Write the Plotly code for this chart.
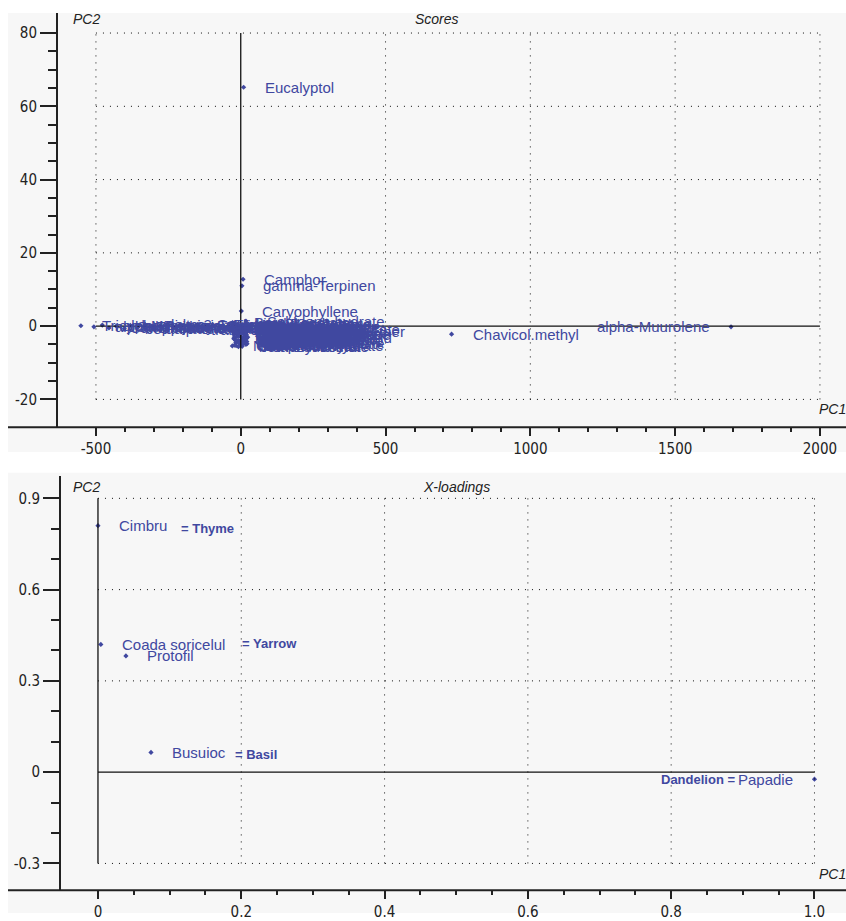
import plotly.graph_objects as go

W, H = 846, 921

# ---------------- data: scores (PC1, PC2) ----------------
named_labels = ["Eucalyptol", "Camphor", "gamma-Terpinen", "Caryophyllene", "Chavicol.methyl", "alpha-Muurolene"]
named_pc1 = [10, 8, 4, 2, 728, 1693]
named_pc2 = [65.2, 12.8, 11.0, 4.1, -2.2, -0.2]
named_side = ["right", "right", "right", "right", "right", "left"]

left_labels = ["Tricyclene", "alpha-Thujene", "alpha-Pinene", "Camphene", "Sabinene", "beta-Pinene",
               "Myrcene", "alpha-Phellandrene", "delta-3-Carene", "alpha-Terpinene", "p-Cymene",
               "Limonene", "beta-Phellandrene", "cis-Ocimene", "trans-Ocimene", "Terpinolene",
               "Linalool", "Thymol", "Carvacrol", "Nonanal"]
left_pc1 = [-552, -507, -478, -455, -430, -402, -381, -355, -330, -302, -276, -251, -228, -203,
            -176, -150, -122, -97, -71, -43]
left_pc2 = [0.1, -0.2, 0.3, -0.5, 0.0, -0.7, 0.2, -0.3, 0.4, -0.6, -0.1, 0.3, -0.4, 0.1, -0.8,
            0.2, -0.2, 0.4, -0.5, 0.0]

blob_labels = ["Bornyl acetate", "Linalyl acetate", "Terpinen-4-ol", "Germacrene D",
               "alpha-Terpineol", "Sabinene hydrate", "cis-Sabinene hydrate", "Spathulenol",
               "beta-Bisabolene", "Myrtenyl acetate", "Caryophyllene oxide", "Terpinyl acetate",
               "Geranyl acetate", "Neryl acetate", "alpha-Humulene", "delta-Cadinene",
               "gamma-Cadinene", "beta-Elemene", "alpha-Copaene", "beta-Bourbonene",
               "Thymyl acetate", "Methyl eugenol", "Linalool oxide", "trans-Anethole",
               "Carvacrol methyl ether", "Borneol", "Isoborneol acetate", "Citronellol",
               "3-Octanone", "Myrtenal", "Pinocarvone", "trans-Pinocarveol", "Verbenone",
               "Carvone", "Piperitone oxide", "Chamazulene", "Artemisia ketone", "alpha-Thujone",
               "Lavandulyl acetate", "Sabinyl acetate", "beta-Thujone", "Nerolidol",
               "beta-Farnesene", "Bicyclogermacrene", "Aromadendrene", "Ledol", "Viridiflorol",
               "Hexadecanoic acid", "tau-Muurolol", "alpha-Cadinol", "Phytol", "Tricosane",
               "Pentacosane", "Ethyl palmitate", "Undecanal",
               "Camphene hydrate", "Fenchyl acetate", "Citronellal", "Geraniol", "Nerol",
               "Neral", "Geranial", "Carvacryl acetate", "Cuminaldehyde", "Eugenol",
               "Isoeugenol", "Caryophyllenol", "Humulene epoxide", "Cubenol", "Globulol",
               "Elemol", "beta-Eudesmol", "alpha-Bisabolol", "Germacrene B", "Valencene"]
blob_pc1 = [-28, -22, 12, 5, -15, 18, -8, 22, -3, 9, -25, 14, -12, 3, 20, -18, 7, -5, 16, -20,
            1, 11, -10, 24, -27, 6, -14, 19, -2, 13, -24, 8, -7, 21, -17, 4, -11, 15, -26, 10,
            -4, 23, -19, 2, 17, -9, -21, 12, -23, 6, -13, 20, -1, 14, 9,
            -21, 5, -6, 18, -29, 11, 0, 22, -16, 7, -3, 15, -25, 9, -12, 24, -8, 3, 19, -18]
blob_pc2 = [1.0, 0.6, 0.2, -0.2, -0.6, 1.4, -1.0, -1.3, -1.6, -1.9, -2.2, -2.5, -2.8, -3.1,
            -3.4, -3.7, -4.0, -4.3, -4.7, 0.8, 0.0, -0.5, -0.8, -1.1, -1.5, -1.8, -2.1, -2.4,
            -2.7, -3.0, -3.3, -3.6, -3.9, -4.2, -4.5, -4.9, 0.4, -0.1, -0.4, -0.7, -1.2, -1.4,
            -1.7, -2.0, -2.3, -2.6, -2.9, -3.2, -3.5, -3.8, -4.1, -0.3, -1.5, -2.7, -3.9,
            -5.2, -5.5, -4.6, -5.0, -5.4, -4.4, -5.1, -4.8, -5.3, -1.1, -2.6, -3.5, -0.2, -4.7,
            -1.9, -3.0, -5.6, -0.9, -2.2, -3.9]

# ---------------- data: X-loadings ----------------
load_labels = ["Cimbru", "Coada soricelul", "Protofil", "Busuioc", "Papadie"]
load_pc1 = [0.0, 0.004, 0.039, 0.074, 1.0]
load_pc2 = [0.81, 0.42, 0.382, 0.065, -0.023]
load_side = ["right", "right", "right", "right", "left"]

# English names written next to the Romanian ones
trans_text = ["= Thyme", "= Yarrow", "= Basil", "Dandelion ="]
trans_x = [0.113, 0.198, 0.188, 0.892]
trans_y = [0.80, 0.423, 0.059, -0.025]
trans_anchor = ["left", "left", "left", "right"]

# axis ticks
s_xticks = [-500, 0, 500, 1000, 1500, 2000]
s_xminor = [-400, -300, -200, -100, 100, 200, 300, 400, 600, 700, 800, 900, 1100, 1200, 1300,
            1400, 1600, 1700, 1800, 1900]
s_yticks = [-20, 0, 20, 40, 60, 80]
s_yminor = [-15, -10, -5, 5, 10, 15, 25, 30, 35, 45, 50, 55, 65, 70, 75]
l_xticks = [0, 0.2, 0.4, 0.6, 0.8, 1.0]
l_xticktext = ["0", "0.2", "0.4", "0.6", "0.8", "1.0"]
l_xminor = [0.05, 0.1, 0.15, 0.25, 0.3, 0.35, 0.45, 0.5, 0.55, 0.65, 0.7, 0.75, 0.85, 0.9, 0.95]
l_yticks = [-0.3, 0, 0.3, 0.6, 0.9]
l_yticktext = ["-0.3", "0", "0.3", "0.6", "0.9"]
l_yminor = [-0.2, -0.1, 0.1, 0.2, 0.4, 0.5, 0.7, 0.8]

# ---------------- styling ----------------
BLUE = "#4048a0"
INK = "#222222"
PANEL = "#f7f7f7"
LABEL_FONT = "Liberation Sans, Arial, sans-serif"
TICK_FONT = "DejaVu Sans Condensed, Liberation Sans Narrow, Arial Narrow, Liberation Sans, sans-serif"


def px_x(p):
    return p / W


def px_y(p):
    return 1 - p / H


fig = go.Figure()

# score points
all_pc1 = named_pc1 + left_pc1 + blob_pc1
all_pc2 = named_pc2 + left_pc2 + blob_pc2
fig.add_trace(go.Scatter(x=all_pc1, y=all_pc2, mode="markers", xaxis="x", yaxis="y",
                         marker=dict(symbol="diamond", size=4, color=BLUE),
                         showlegend=False, hoverinfo="skip"))
# loading points
fig.add_trace(go.Scatter(x=load_pc1, y=load_pc2, mode="markers", xaxis="x2", yaxis="y2",
                         marker=dict(symbol="diamond", size=4, color=BLUE),
                         showlegend=False, hoverinfo="skip"))

annotations = []


def point_label(text, x, y, side, xref, yref, size=15):
    annotations.append(dict(
        x=x, y=y, xref=xref, yref=yref, text=text,
        showarrow=False, xanchor="left" if side == "right" else "right",
        xshift=19 if side == "right" else -19, yanchor="middle",
        font=dict(family=LABEL_FONT, size=size, color=BLUE)))


for t, x, y in zip(left_labels, left_pc1, left_pc2):
    point_label(t, x, y, "right", "x", "y")
for t, x, y in zip(blob_labels, blob_pc1, blob_pc2):
    point_label(t, x, y, "right", "x", "y")
for t, x, y, s in zip(named_labels, named_pc1, named_pc2, named_side):
    point_label(t, x, y, s, "x", "y")
for t, x, y, s in zip(load_labels, load_pc1, load_pc2, load_side):
    point_label(t, x, y, s, "x2", "y2")
for t, x, y, a in zip(trans_text, trans_x, trans_y, trans_anchor):
    annotations.append(dict(x=x, y=y, xref="x2", yref="y2", text=f"<b>{t}</b>", showarrow=False,
                            xanchor=a, yanchor="middle",
                            font=dict(family=LABEL_FONT, size=13, color=BLUE)))

# panel titles and axis names
for text, x, y, anchor in [("Scores", 437, 19, "center"), ("X-loadings", 456, 491, "center"),
                           ("PC2", 71, 19, "left"), ("PC2", 71, 491, "left"),
                           ("PC1", 848, 413, "right"), ("PC1", 848, 882, "right")]:
    annotations.append(dict(x=px_x(x), y=px_y(y), xref="paper", yref="paper", text=f"<i>{text}</i>",
                            showarrow=False, xanchor=anchor, yanchor="middle",
                            font=dict(family=LABEL_FONT, size=14, color=INK)))

shapes = []
# grey panels
shapes.append(dict(type="rect", xref="paper", yref="paper", x0=px_x(8), x1=1, y0=px_y(456), y1=px_y(13),
                   fillcolor=PANEL, line=dict(width=0), layer="below"))
shapes.append(dict(type="rect", xref="paper", yref="paper", x0=px_x(8), x1=1, y0=0, y1=px_y(477),
                   fillcolor=PANEL, line=dict(width=0), layer="below"))
# x axis lines running out to the panel edge
shapes.append(dict(type="line", xref="paper", yref="paper", x0=px_x(8), x1=1, y0=px_y(431), y1=px_y(431),
                   line=dict(color=INK, width=2)))
shapes.append(dict(type="line", xref="paper", yref="paper", x0=px_x(8), x1=1, y0=px_y(898), y1=px_y(898),
                   line=dict(color=INK, width=2)))

DOT = "1px,6px"


def grid(xref, yref, xt, yt, xlo, xhi, ylo, yhi):
    for v in xt:
        solid = v == 0
        shapes.append(dict(type="line", xref=xref, yref=yref, x0=v, x1=v, y0=ylo, y1=yhi,
                           line=dict(color="#111111", width=1.3 if solid else 1,
                                     dash="solid" if solid else DOT)))
    for v in yt:
        solid = v == 0
        shapes.append(dict(type="line", xref=xref, yref=yref, x0=xlo, x1=xhi, y0=v, y1=v,
                           line=dict(color="#111111", width=1.3 if solid else 1,
                                     dash="solid" if solid else DOT)))


grid("x", "y", s_xticks, s_yticks, min(s_xticks), max(s_xticks), min(s_yticks), max(s_yticks))
grid("x2", "y2", l_xticks, l_yticks, 0, max(l_xticks), min(l_yticks), max(l_yticks))

tickfont = dict(family=TICK_FONT, size=15, color=INK)


def xaxis_cfg(domain, rng, ticks, texts, minor, anchor):
    return dict(domain=domain, range=rng, anchor=anchor, tickmode="array", tickvals=ticks,
                ticktext=texts, ticks="outside", ticklen=8, tickwidth=1.5, tickcolor=INK,
                showgrid=False, zeroline=False, showline=False, tickfont=tickfont,
                minor=dict(tickmode="array", tickvals=minor, ticks="outside", ticklen=4,
                           tickwidth=1.5, tickcolor=INK, showgrid=False))


def yaxis_cfg(domain, rng, ticks, texts, minor, anchor):
    return dict(domain=domain, range=rng, anchor=anchor, tickmode="array", tickvals=ticks,
                ticktext=texts, ticks="outside", ticklen=16, tickwidth=1.5, tickcolor=INK,
                showgrid=False, zeroline=False, showline=True, linecolor=INK, linewidth=2,
                tickfont=tickfont,
                minor=dict(tickmode="array", tickvals=minor, ticks="outside", ticklen=8,
                           tickwidth=1.5, tickcolor=INK, showgrid=False))


fig.update_layout(
    width=W, height=H, margin=dict(l=0, r=0, t=0, b=0),
    paper_bgcolor="white", plot_bgcolor="rgba(0,0,0,0)",
    xaxis=xaxis_cfg([px_x(58), 1], [-631, 2090], s_xticks, [str(v) for v in s_xticks], s_xminor, "y"),
    yaxis=yaxis_cfg([px_y(431), px_y(13)], [-27.6, 85.5], s_yticks, [str(v) for v in s_yticks], s_yminor, "x"),
    xaxis2=xaxis_cfg([px_x(61), 1], [-0.0516, 1.044], l_xticks, l_xticktext, l_xminor, "y2"),
    yaxis2=yaxis_cfg([px_y(898), px_y(480)], [-0.388, 0.974], l_yticks, l_yticktext, l_yminor, "x2"),
    shapes=shapes, annotations=annotations, showlegend=False,
)

fig.write_html("out.html")
